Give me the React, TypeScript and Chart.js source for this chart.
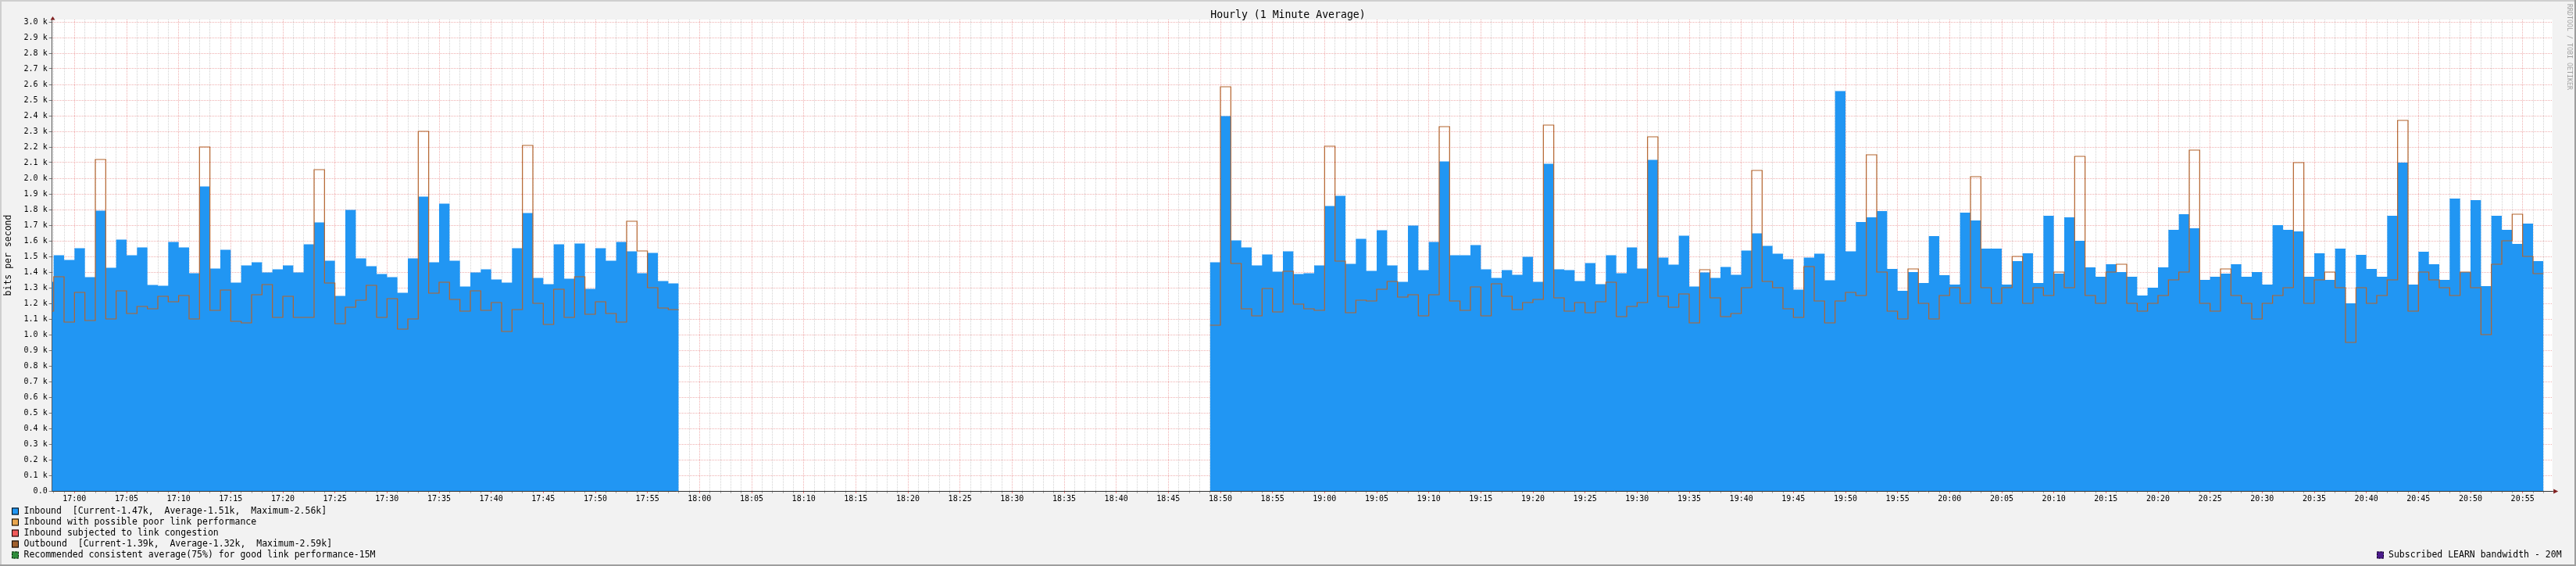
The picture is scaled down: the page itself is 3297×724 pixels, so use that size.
import React, { useEffect, useRef } from "react";
import { Chart, registerables } from "chart.js";

Chart.register(...registerables);

const FONT = '"DejaVu Sans Mono", monospace';

// x axis in minutes after 17:00
const axisStartMinute = -2.15;
const axisEndMinute = 237.85;
const axisMaxValue = 3.015; // in k (bits per second / 1000)

const block1StartMinute = -3;
const inboundBlock1 = [
  1.337, 1.507, 1.477, 1.552, 1.367, 1.792, 1.427, 1.607, 1.507, 1.557,
  1.317, 1.312, 1.592, 1.557, 1.392, 1.947, 1.422, 1.542, 1.332, 1.442,
  1.462, 1.397, 1.417, 1.442, 1.397, 1.577, 1.717, 1.472, 1.247, 1.797,
  1.487, 1.437, 1.387, 1.367, 1.267, 1.487, 1.882, 1.462, 1.837, 1.472,
  1.307, 1.397, 1.417, 1.352, 1.332, 1.552, 1.777, 1.362, 1.322, 1.577,
  1.357, 1.582, 1.292, 1.552, 1.472, 1.592, 1.532, 1.392, 1.522, 1.342,
  1.327,
];
const outboundBlock1 = [
  1.15, 1.37, 1.08, 1.27, 1.09, 2.12, 1.1, 1.28, 1.135, 1.18,
  1.165, 1.245, 1.21, 1.25, 1.1, 2.2, 1.155, 1.285, 1.085, 1.075,
  1.255, 1.32, 1.11, 1.245, 1.11, 1.11, 2.055, 1.33, 1.07, 1.175,
  1.22, 1.315, 1.11, 1.23, 1.035, 1.1, 2.3, 1.265, 1.335, 1.225,
  1.15, 1.28, 1.155, 1.205, 1.02, 1.16, 2.21, 1.2, 1.065, 1.29,
  1.11, 1.37, 1.13, 1.21, 1.135, 1.08, 1.725, 1.535, 1.3, 1.17,
  1.16,
];

const block2StartMinute = 109;
const inboundBlock2 = [
  1.462, 2.397, 1.602, 1.557, 1.442, 1.512, 1.402, 1.532, 1.387, 1.392,
  1.442, 1.822, 1.887, 1.452, 1.612, 1.407, 1.667, 1.442, 1.337, 1.697,
  1.412, 1.592, 2.107, 1.507, 1.507, 1.572, 1.417, 1.362, 1.412, 1.382,
  1.497, 1.337, 2.092, 1.417, 1.412, 1.342, 1.457, 1.322, 1.507, 1.392,
  1.557, 1.422, 2.117, 1.492, 1.447, 1.632, 1.307, 1.397, 1.362, 1.432,
  1.382, 1.537, 1.647, 1.567, 1.517, 1.482, 1.287, 1.492, 1.517, 1.347,
  2.557,
  1.532, 1.72, 1.75, 1.79, 1.42, 1.28, 1.4, 1.33, 1.63, 1.38,
  1.32, 1.78, 1.73, 1.55, 1.55, 1.32, 1.47, 1.52, 1.33, 1.76,
  1.39, 1.75, 1.6, 1.43, 1.37, 1.45, 1.4, 1.37, 1.25, 1.3,
  1.43, 1.67, 1.77, 1.68, 1.35, 1.37, 1.39, 1.45, 1.37, 1.4,
  1.32, 1.7, 1.67, 1.66, 1.37, 1.52, 1.35, 1.55, 1.2, 1.51,
  1.42, 1.37, 1.76, 2.1, 1.32, 1.53, 1.45, 1.35, 1.87, 1.4,
  1.86, 1.31, 1.76, 1.67, 1.58, 1.71, 1.47,
];
const outboundBlock2 = [
  1.06, 2.585, 1.455, 1.165, 1.12, 1.295, 1.145, 1.405, 1.195, 1.165,
  1.155, 2.205, 1.47, 1.14, 1.22, 1.215, 1.29, 1.34, 1.24, 1.255,
  1.12, 1.255, 2.33, 1.215, 1.155, 1.305, 1.12, 1.325, 1.245, 1.16,
  1.205, 1.225, 2.34, 1.235, 1.15, 1.205, 1.14, 1.21, 1.335, 1.115,
  1.18, 1.205, 2.265, 1.245, 1.175, 1.26, 1.075, 1.415, 1.235, 1.115,
  1.135, 1.3, 2.05, 1.34, 1.3, 1.165, 1.11, 1.435, 1.215, 1.075,
  1.215,
  1.27, 1.25, 2.15, 1.4, 1.15, 1.1, 1.42, 1.2, 1.1, 1.25,
  1.3, 1.2, 2.01, 1.3, 1.2, 1.3, 1.5, 1.2, 1.3, 1.25,
  1.4, 1.3, 2.14, 1.25, 1.2, 1.4, 1.45, 1.2, 1.15, 1.2,
  1.25, 1.35, 1.4, 2.18, 1.2, 1.15, 1.42, 1.25, 1.2, 1.1,
  1.2, 1.25, 1.3, 2.1, 1.2, 1.35, 1.4, 1.3, 0.95, 1.3,
  1.2, 1.25, 1.35, 2.37, 1.15, 1.4, 1.35, 1.3, 1.25, 1.4,
  1.3, 1.0, 1.45, 1.6, 1.77, 1.5, 1.39,
];

const timeTickLabels = [
  "17:00", "17:05", "17:10", "17:15", "17:20", "17:25", "17:30", "17:35", "17:40", "17:45", "17:50", "17:55",
  "18:00", "18:05", "18:10", "18:15", "18:20", "18:25", "18:30", "18:35", "18:40", "18:45", "18:50", "18:55",
  "19:00", "19:05", "19:10", "19:15", "19:20", "19:25", "19:30", "19:35", "19:40", "19:45", "19:50", "19:55",
  "20:00", "20:05", "20:10", "20:15", "20:20", "20:25", "20:30", "20:35", "20:40", "20:45", "20:50", "20:55",
];
const valueTickLabels = [
  "0.0", "0.1 k", "0.2 k", "0.3 k", "0.4 k", "0.5 k", "0.6 k", "0.7 k", "0.8 k", "0.9 k",
  "1.0 k", "1.1 k", "1.2 k", "1.3 k", "1.4 k", "1.5 k", "1.6 k", "1.7 k", "1.8 k", "1.9 k",
  "2.0 k", "2.1 k", "2.2 k", "2.3 k", "2.4 k", "2.5 k", "2.6 k", "2.7 k", "2.8 k", "2.9 k",
  "3.0 k",
];

const chartTitle = "Hourly (1 Minute Average)";
const yAxisTitle = "bits per second";
const watermark = "RRDTOOL / TOBI OETIKER";

const legendLeftTexts = [
  "Inbound  [Current-1.47k,  Average-1.51k,  Maximum-2.56k]",
  "Inbound with possible poor link performance",
  "Inbound subjected to link congestion",
  "Outbound  [Current-1.39k,  Average-1.32k,  Maximum-2.59k]",
  "Recommended consistent average(75%) for good link performance-15M",
];
const legendLeftColors = ["#2196F3", "#E8A64F", "#F05A5A", "#A0602E", "#2E8B3A"];
const legendLeftDashed = [false, false, false, false, true];
const legendRightText = "Subscribed LEARN bandwidth - 20M";
const legendRightColor = "#4B1A8C";

const INBOUND_COLOR = "#2196F3";
const OUTBOUND_COLOR = "#B4642D";
const MAJOR_GRID = "rgba(222,79,79,0.45)";
const MINOR_GRID = "rgba(143,143,143,0.4)";
const ARROW_COLOR = "rgb(128,31,31)";

function buildSteps(blocks: { start: number; values: number[] }[]) {
  const pts: { x: number; y: number | null }[] = [];
  blocks.forEach((b, bi) => {
    b.values.forEach((v, i) => pts.push({ x: b.start + i, y: v }));
    pts.push({ x: b.start + b.values.length, y: b.values[b.values.length - 1] });
    if (bi < blocks.length - 1) pts.push({ x: b.start + b.values.length + 0.5, y: null });
  });
  return pts;
}

const decorPlugin = {
  id: "rrdDecor",
  beforeDraw(chart: any) {
    const { ctx, chartArea: ca, width, height } = chart;
    ctx.save();
    ctx.fillStyle = "#F2F2F2";
    ctx.fillRect(0, 0, width, height);
    ctx.fillStyle = "#CFCFCF";
    ctx.fillRect(0, 0, width, 2);
    ctx.fillRect(0, 0, 2, height);
    ctx.fillStyle = "#9E9E9E";
    ctx.fillRect(0, height - 2, width, 2);
    ctx.fillRect(width - 2, 0, 2, height);
    ctx.fillStyle = "#FFFFFF";
    ctx.fillRect(ca.left, ca.top, ca.right - ca.left, ca.bottom - ca.top);
    ctx.restore();
  },
  afterDraw(chart: any) {
    const { ctx, chartArea: ca, width } = chart;
    ctx.save();
    // title
    ctx.fillStyle = "#000";
    ctx.font = `13.2px ${FONT}`;
    ctx.textAlign = "center";
    ctx.textBaseline = "middle";
    ctx.fillText(chartTitle, width / 2, 19.5);

    // axis extensions and arrows
    ctx.strokeStyle = "#555";
    ctx.lineWidth = 1;
    ctx.beginPath();
    ctx.moveTo(Math.round(ca.left) + 0.5, ca.top);
    ctx.lineTo(Math.round(ca.left) + 0.5, ca.top - 2);
    ctx.moveTo(ca.right, Math.round(ca.bottom) + 0.5);
    ctx.lineTo(ca.right + 2, Math.round(ca.bottom) + 0.5);
    ctx.stroke();
    ctx.fillStyle = ARROW_COLOR;
    const ax = Math.round(ca.left) + 0.5;
    ctx.beginPath();
    ctx.moveTo(ax - 3, ca.top + 0.5);
    ctx.lineTo(ax + 3, ca.top + 0.5);
    ctx.lineTo(ax, ca.top - 4);
    ctx.closePath();
    ctx.fill();
    const ay = Math.round(ca.bottom) + 0.5;
    ctx.beginPath();
    ctx.moveTo(ca.right + 1.5, ay - 3);
    ctx.lineTo(ca.right + 1.5, ay + 3);
    ctx.lineTo(ca.right + 7.5, ay);
    ctx.closePath();
    ctx.fill();

    // legend
    ctx.font = `11.5px ${FONT}`;
    ctx.textAlign = "left";
    ctx.textBaseline = "middle";
    const drawSwatch = (x: number, yc: number, color: string, dashed: boolean) => {
      ctx.fillStyle = color;
      ctx.fillRect(x, yc - 4.5, 9, 9);
      ctx.strokeStyle = "#000";
      ctx.lineWidth = 1;
      ctx.setLineDash(dashed ? [2, 2] : []);
      ctx.strokeRect(x + 0.5, yc - 4.5 + 0.5, 8, 8);
      ctx.setLineDash([]);
    };
    legendLeftTexts.forEach((t, i) => {
      const yc = 654 + i * 14;
      drawSwatch(15, yc, legendLeftColors[i], legendLeftDashed[i]);
      ctx.fillStyle = "#000";
      ctx.fillText(t, 30.5, yc);
    });
    drawSwatch(3042, 710, legendRightColor, true);
    ctx.fillStyle = "#000";
    ctx.fillText(legendRightText, 3057, 710);

    // watermark
    ctx.translate(3288, 60);
    ctx.rotate(Math.PI / 2);
    ctx.font = `8.3px ${FONT}`;
    ctx.fillStyle = "rgba(0,0,0,0.35)";
    ctx.textAlign = "center";
    ctx.fillText(watermark, 0, 0);
    ctx.restore();
  },
};

export default function App() {
  const canvasRef = useRef<HTMLCanvasElement | null>(null);

  useEffect(() => {
    document.body.style.margin = "0";
    const canvas = canvasRef.current;
    if (!canvas) return;
    const inPts = buildSteps([
      { start: block1StartMinute, values: inboundBlock1 },
      { start: block2StartMinute, values: inboundBlock2 },
    ]);
    const outPts = buildSteps([
      { start: block1StartMinute, values: outboundBlock1 },
      { start: block2StartMinute, values: outboundBlock2 },
    ]);
    const minuteTicks: number[] = [];
    for (let m = Math.ceil(axisStartMinute); m <= Math.floor(axisEndMinute); m++) minuteTicks.push(m);

    const chart = new Chart(canvas, {
      type: "line",
      data: {
        datasets: [
          {
            label: "Outbound",
            data: outPts as any,
            borderColor: OUTBOUND_COLOR,
            borderWidth: 1.2,
            stepped: "before",
            pointRadius: 0,
            fill: false,
            spanGaps: false,
            order: 0,
          },
          {
            label: "Inbound",
            data: inPts as any,
            borderColor: "rgba(0,0,0,0)",
            borderWidth: 0,
            backgroundColor: INBOUND_COLOR,
            stepped: "before",
            pointRadius: 0,
            fill: "origin",
            spanGaps: false,
            order: 1,
          },
        ],
      },
      options: {
        animation: false,
        responsive: false,
        devicePixelRatio: 1,
        events: [],
        layout: { padding: { top: 25, right: 30.333, bottom: 0, left: 0 } },
        plugins: {
          legend: { display: false },
          title: { display: false },
          tooltip: { enabled: false },
        },
        scales: {
          x: {
            type: "linear",
            min: axisStartMinute,
            max: axisEndMinute,
            z: 1,
            afterFit: (s: any) => {
              s.height = 96;
            },
            afterBuildTicks: (s: any) => {
              s.ticks = minuteTicks.map((v) => ({ value: v }));
            },
            ticks: {
              autoSkip: false,
              maxRotation: 0,
              minRotation: 0,
              padding: 1,
              color: "#000",
              font: { family: FONT, size: 10 },
              callback: (v: any) => {
                const n = Number(v);
                return n >= 0 && n % 5 === 0 ? timeTickLabels[n / 5] ?? "" : "";
              },
            },
            grid: {
              lineWidth: 1,
              color: (c: any) => (c.tick && c.tick.value % 5 === 0 ? MAJOR_GRID : MINOR_GRID),
              tickColor: (c: any) => (c.tick && c.tick.value % 5 === 0 ? "rgba(222,79,79,0.8)" : "rgba(120,120,120,0.6)"),
              tickLength: 3,
            },
            border: { display: true, color: "#333", width: 1, dash: [1, 1] },
          },
          y: {
            type: "linear",
            min: 0,
            max: axisMaxValue,
            z: 1,
            afterFit: (s: any) => {
              s.width = 66.667;
            },
            afterBuildTicks: (s: any) => {
              s.ticks = valueTickLabels.map((_, i) => ({ value: i / 10 }));
            },
            ticks: {
              autoSkip: false,
              padding: 2,
              color: "#000",
              font: { family: FONT, size: 10 },
              callback: (_v: any, i: number) => valueTickLabels[i],
            },
            grid: {
              lineWidth: 1,
              color: MAJOR_GRID,
              tickColor: "rgba(90,90,90,0.8)",
              tickLength: 4,
            },
            border: { display: true, color: "#555", width: 1, dash: [1, 1] },
            title: {
              display: true,
              text: yAxisTitle,
              color: "#000",
              font: { family: FONT, size: 11.5 },
              padding: { top: 4.5, bottom: 0 },
            },
          },
        },
      },
      plugins: [decorPlugin],
    });
    return () => chart.destroy();
  }, []);

  return <canvas ref={canvasRef} width={3297} height={724} style={{ display: "block" }} />;
}
